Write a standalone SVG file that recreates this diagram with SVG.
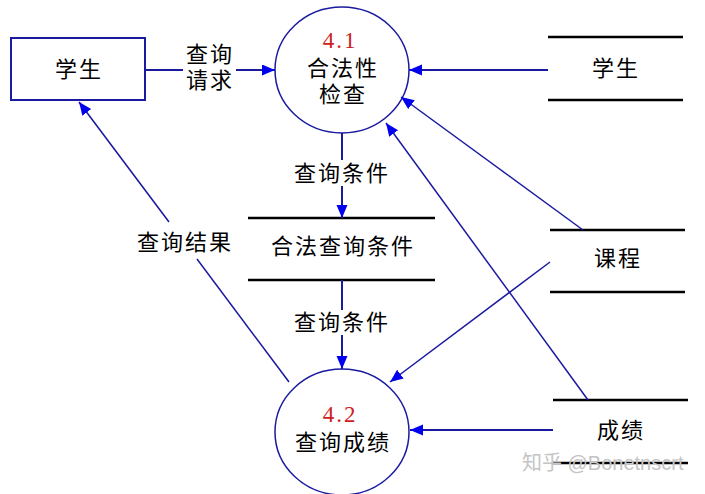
<svg xmlns="http://www.w3.org/2000/svg" width="705" height="494" viewBox="0 0 705 494">
<defs>
<marker id="arr" markerUnits="userSpaceOnUse" markerWidth="14" markerHeight="12" refX="13" refY="5.5" orient="auto">
<path d="M0,0 L13,5.5 L0,11 z" fill="#0000ee"/>
</marker>
<style>
.t{font-family:"Liberation Sans","Noto Sans CJK SC",sans-serif;font-size:22px;letter-spacing:2px;fill:#000;text-anchor:middle;dominant-baseline:central}
.num{font-family:"Liberation Serif",serif;font-size:23px;letter-spacing:2px;fill:#cc2222;text-anchor:middle;dominant-baseline:central}
.proc{fill:#fff;stroke:#1a1aa0;stroke-width:1.5}
.ent{fill:#fff;stroke:#1a1aa0;stroke-width:2}
.st{stroke:#000;stroke-width:2.5}
.c{fill:none;stroke:#1a1aa0;stroke-width:2}
.d{fill:none;stroke:#1a1aa0;stroke-width:1.5}
.wm{font-family:"Liberation Sans","Noto Sans CJK SC",sans-serif;font-size:20px;fill:#c4c4c4;dominant-baseline:central}
</style>
</defs>
<rect width="705" height="494" fill="#fff"/>
<g id="student">
<rect class="ent" x="11" y="38" width="134" height="62"/>
<text class="t" x="79" y="69">学生</text>
</g>
<g id="p41">
<ellipse class="proc" cx="342" cy="70" rx="67" ry="63"/>
<text class="num" x="340" y="40">4.1</text>
<text class="t"><tspan x="343" y="68">合法性</tspan><tspan x="343" y="94">检查</tspan></text>
</g>
<g id="p42">
<ellipse class="proc" cx="342" cy="432" rx="67" ry="63"/>
<text class="num" x="340" y="414">4.2</text>
<text class="t" x="343" y="442">查询成绩</text>
</g>
<g id="ds_student">
<line class="st" x1="548" y1="37" x2="683" y2="37"/>
<line class="st" x1="548" y1="100" x2="683" y2="100"/>
<text class="t" x="616" y="68">学生</text>
</g>
<g id="ds_course">
<line class="st" x1="550" y1="230" x2="685" y2="230"/>
<line class="st" x1="550" y1="292" x2="685" y2="292"/>
<text class="t" x="618" y="258">课程</text>
</g>
<g id="ds_score">
<line class="st" x1="553" y1="400" x2="688" y2="400"/>
<line class="st" x1="553" y1="463" x2="688" y2="463"/>
<text class="t" x="621" y="430">成绩</text>
</g>
<g id="ds_cond">
<line class="st" x1="248" y1="218" x2="435" y2="218"/>
<line class="st" x1="248" y1="280" x2="435" y2="280"/>
<text class="t" x="343" y="246">合法查询条件</text>
</g>
<g id="connectors">
<line class="c" x1="145" y1="70" x2="183" y2="70"/>
<line class="c" x1="236" y1="70" x2="275" y2="70" marker-end="url(#arr)"/>
<text class="t"><tspan x="210" y="54">查询</tspan><tspan x="210" y="80">请求</tspan></text>
<line class="c" x1="548" y1="70" x2="409" y2="70" marker-end="url(#arr)"/>
<line class="c" x1="342" y1="133" x2="342" y2="160"/>
<line class="c" x1="342" y1="186" x2="342" y2="218" marker-end="url(#arr)"/>
<text class="t" x="342" y="173">查询条件</text>
<line class="c" x1="342" y1="280" x2="342" y2="310"/>
<line class="c" x1="342" y1="335" x2="342" y2="369" marker-end="url(#arr)"/>
<text class="t" x="342" y="322">查询条件</text>
<line class="d" x1="289" y1="382" x2="197" y2="259"/>
<line class="d" x1="169" y1="222" x2="79" y2="102" marker-end="url(#arr)"/>
<text class="t" x="185" y="242">查询结果</text>
<line class="d" x1="583" y1="230" x2="401" y2="97" marker-end="url(#arr)"/>
<line class="d" x1="588" y1="400" x2="386" y2="123" marker-end="url(#arr)"/>
<line class="d" x1="550" y1="262" x2="390" y2="382" marker-end="url(#arr)"/>
<line class="c" x1="553" y1="430" x2="410" y2="430" marker-end="url(#arr)"/>
</g>
<text class="wm" x="522" y="463">知乎 @Bonetnscrt</text>
</svg>
